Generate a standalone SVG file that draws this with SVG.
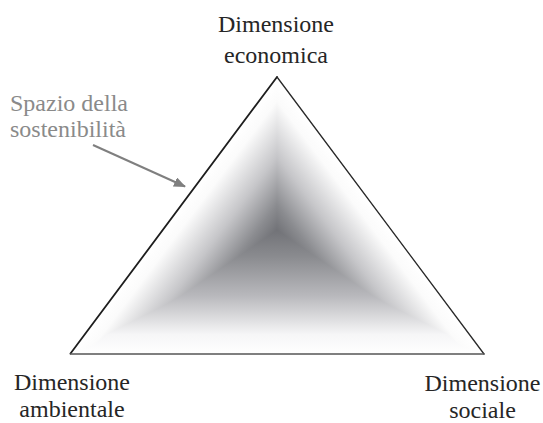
<svg xmlns="http://www.w3.org/2000/svg" width="543" height="423" viewBox="0 0 543 423">
  <style>
    .lbl { font-family: "Liberation Serif", "Times New Roman", "DejaVu Serif", serif; font-size: 24px; fill: #262626; }
    .note { font-family: "Liberation Serif", "Times New Roman", "DejaVu Serif", serif; font-size: 24px; fill: #8a8a8a; }
    .edge { fill: none; stroke-linecap: round; }
    .conn { stroke: #7f7f7f; stroke-width: 2; fill: none; }
    .layer { mix-blend-mode: lighten; }
  </style>
  <defs>
    <linearGradient id="gL" gradientUnits="userSpaceOnUse" x1="207.8" y1="169.6" x2="283.9" y2="226.5">
      <stop offset="0" stop-color="#ffffff"/>
      <stop offset="0.15" stop-color="#fbfbfb"/>
      <stop offset="0.5" stop-color="#c6c6c9"/>
      <stop offset="0.8" stop-color="#8b8c90"/>
      <stop offset="1" stop-color="#6c6d72"/>
    </linearGradient>
    <linearGradient id="gR" gradientUnits="userSpaceOnUse" x1="346.9" y1="170.5" x2="270.8" y2="227.4">
      <stop offset="0" stop-color="#ffffff"/>
      <stop offset="0.15" stop-color="#fbfbfb"/>
      <stop offset="0.5" stop-color="#c6c6c9"/>
      <stop offset="0.8" stop-color="#8b8c90"/>
      <stop offset="1" stop-color="#6c6d72"/>
    </linearGradient>
    <linearGradient id="gB" gradientUnits="userSpaceOnUse" x1="278" y1="354" x2="278" y2="224">
      <stop offset="0" stop-color="#ffffff"/>
      <stop offset="0.15" stop-color="#f6f6f7"/>
      <stop offset="0.45" stop-color="#b8b8bc"/>
      <stop offset="0.75" stop-color="#8a8b8f"/>
      <stop offset="1" stop-color="#6c6d72"/>
    </linearGradient>
    <marker id="ah" markerWidth="12" markerHeight="10" refX="11" refY="5" orient="auto" markerUnits="userSpaceOnUse">
      <path d="M0,0 L12,5 L0,10 z" fill="#7f7f7f"/>
    </marker>
  </defs>

  <rect width="543" height="423" fill="#ffffff"/>

  <g id="triangle">
    <g style="isolation:isolate">
      <polygon points="277,77 70,354 484,354" fill="url(#gL)"/>
      <polygon class="layer" points="277,77 70,354 484,354" fill="url(#gR)"/>
      <polygon class="layer" points="277,77 70,354 484,354" fill="url(#gB)"/>
    </g>
    <line class="edge" x1="70.5" y1="353.5" x2="277" y2="77" stroke="#1e1e1e" stroke-width="1.8"/>
    <line class="edge" x1="277" y1="77" x2="484" y2="354" stroke="#2a2a2a" stroke-width="1.3"/>
    <line class="edge" x1="70.5" y1="354" x2="484" y2="354" stroke="#555555" stroke-width="1.6"/>
  </g>

  <g id="dim-economica">
    <text class="lbl" x="276" y="31.5" text-anchor="middle">Dimensione</text>
    <text class="lbl" x="276" y="62.5" text-anchor="middle">economica</text>
  </g>
  <g id="dim-ambientale">
    <text class="lbl" x="72" y="390" text-anchor="middle">Dimensione</text>
    <text class="lbl" x="72" y="417" text-anchor="middle">ambientale</text>
  </g>
  <g id="dim-sociale">
    <text class="lbl" x="482.5" y="391" text-anchor="middle">Dimensione</text>
    <text class="lbl" x="482.5" y="418" text-anchor="middle">sociale</text>
  </g>
  <g id="spazio">
    <text class="note" x="10" y="110.5">Spazio della</text>
    <text class="note" x="10" y="137">sostenibilità</text>
  </g>

  <g id="connectors">
    <line class="conn" x1="93" y1="145" x2="185" y2="186.5" marker-end="url(#ah)"/>
  </g>
</svg>
